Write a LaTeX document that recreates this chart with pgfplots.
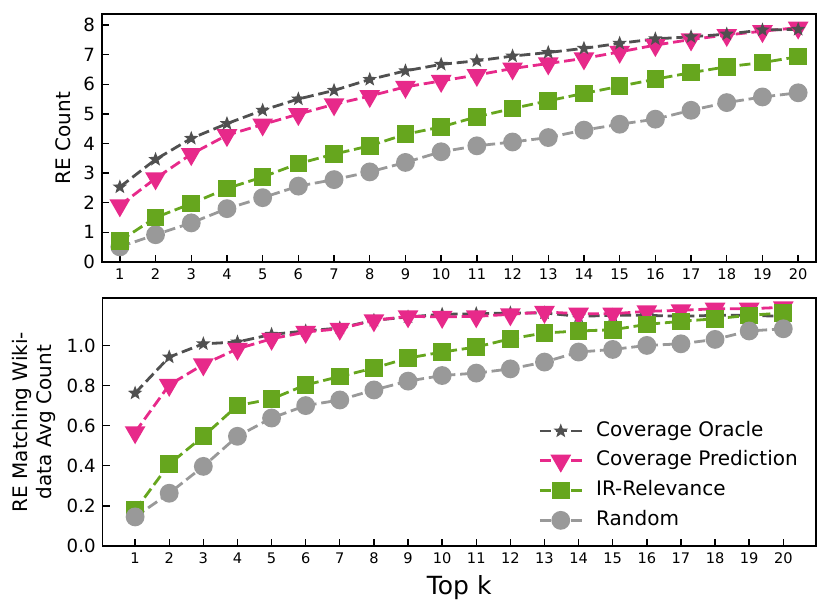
\documentclass[border=0pt]{standalone}
\usepackage{fontspec}
\setmainfont{DejaVu Sans}
\usepackage{pgfplots}
\pgfplotsset{compat=1.18}
\usetikzlibrary{plotmarks}
\definecolor{cOracle}{HTML}{505050}
\definecolor{cPred}{HTML}{E7298A}
\definecolor{cIR}{HTML}{66A61E}
\definecolor{cRand}{HTML}{999999}
\pgfdeclareplotmark{fstar}{%
  \pgfpathmoveto{\pgfqpointpolar{90}{\pgfplotmarksize}}%
  \pgfpathlineto{\pgfqpointpolar{126}{0.42\pgfplotmarksize}}%
  \pgfpathlineto{\pgfqpointpolar{162}{\pgfplotmarksize}}%
  \pgfpathlineto{\pgfqpointpolar{198}{0.42\pgfplotmarksize}}%
  \pgfpathlineto{\pgfqpointpolar{234}{\pgfplotmarksize}}%
  \pgfpathlineto{\pgfqpointpolar{270}{0.42\pgfplotmarksize}}%
  \pgfpathlineto{\pgfqpointpolar{306}{\pgfplotmarksize}}%
  \pgfpathlineto{\pgfqpointpolar{342}{0.42\pgfplotmarksize}}%
  \pgfpathlineto{\pgfqpointpolar{18}{\pgfplotmarksize}}%
  \pgfpathlineto{\pgfqpointpolar{54}{0.42\pgfplotmarksize}}%
  \pgfpathclose\pgfusepathqfill}

\pgfplotstableread{
k oracle pred ir rand
1  2.53 1.91 0.71 0.51
2  3.46 2.82 1.50 0.92
3  4.17 3.64 1.97 1.32
4  4.67 4.28 2.48 1.80
5  5.12 4.64 2.87 2.17
6  5.50 4.99 3.32 2.56
7  5.79 5.32 3.64 2.78
8  6.16 5.60 3.92 3.04
9  6.45 5.91 4.31 3.36
10 6.67 6.11 4.56 3.72
11 6.79 6.31 4.90 3.92
12 6.95 6.53 5.18 4.05
13 7.07 6.70 5.44 4.20
14 7.21 6.87 5.69 4.45
15 7.38 7.09 5.93 4.65
16 7.53 7.32 6.17 4.82
17 7.60 7.51 6.39 5.12
18 7.69 7.66 6.59 5.38
19 7.83 7.79 6.73 5.57
20 7.85 7.91 6.93 5.71
}\topdata

\pgfplotstableread{
k oracle pred ir rand
1  0.762 0.567 0.178 0.145
2  0.942 0.803 0.408 0.263
3  1.008 0.905 0.547 0.397
4  1.017 0.983 0.700 0.547
5  1.055 1.033 0.733 0.638
6  1.072 1.067 0.803 0.700
7  1.087 1.083 0.845 0.728
8  1.125 1.125 0.887 0.778
9  1.142 1.145 0.937 0.822
10 1.155 1.142 0.967 0.850
11 1.158 1.145 0.992 0.862
12 1.162 1.155 1.033 0.883
13 1.162 1.167 1.062 0.917
14 1.145 1.158 1.072 0.967
15 1.150 1.158 1.078 0.980
16 1.150 1.170 1.105 1.000
17 1.145 1.175 1.120 1.008
18 1.150 1.183 1.133 1.030
19 1.150 1.183 1.150 1.072
20 1.145 1.190 1.162 1.083
}\botdata

\pgfplotsset{
  myaxis/.style={
    scale only axis,
    axis line style={black, line width=0.8pt},
    tick align=inside,
    major tick length=3.5pt,
    every tick/.style={black, line width=0.7pt},
    xtick pos=bottom, ytick pos=left,
    xtick={1,...,20},
    /pgf/number format/assume math mode=true,
    xticklabel style={font=\fontsize{7.3}{8}\selectfont},
    yticklabel style={font=\fontsize{9.1}{10}\selectfont},
    ylabel style={font=\fontsize{9.5}{11.2}\selectfont},
    clip=false,
  },
  sO/.style={cOracle, line width=1.4pt, dash pattern=on 5.5pt off 2.4pt, mark=fstar, mark size=3.8pt, mark options={solid, fill=cOracle}},
  sP/.style={cPred, line width=1.4pt, dash pattern=on 5.5pt off 2.4pt, mark=triangle*, mark size=4.6pt, mark options={solid, rotate=180, fill=cPred, draw=cPred}},
  sI/.style={cIR, line width=1.4pt, dash pattern=on 5.5pt off 2.4pt, mark=square*, mark size=3.7pt, mark options={solid, fill=cIR, draw=cIR}},
  sR/.style={cRand, line width=1.4pt, dash pattern=on 5.5pt off 2.4pt, mark=*, mark size=4pt, mark options={solid, fill=cRand, draw=cRand}},
}

\begin{document}
\begin{tikzpicture}
\useasboundingbox (0,0) rectangle (415pt,307pt);
\begin{axis}[myaxis,
  at={(51pt,176pt)}, anchor=south west,
  width=357pt, height=124pt,
  xmin=0.5, xmax=20.5, ymin=0, ymax=8.37,
  ytick={0,...,8},
  ylabel={RE Count},
  every axis y label/.style={at={(axis description cs:-0.0546,0.5)}, rotate=90, anchor=center},
]
\addplot[sR] table[x=k,y=rand]{\topdata};
\addplot[sI] table[x=k,y=ir]{\topdata};
\addplot[sP] table[x=k,y=pred]{\topdata};
\addplot[sO] table[x=k,y=oracle]{\topdata};
\end{axis}
\begin{axis}[myaxis,
  at={(51.35pt,34pt)}, anchor=south west,
  width=356.5pt, height=123.85pt,
  xmin=0.05, xmax=20.95, ymin=0, ymax=1.235,
  ytick={0,0.2,0.4,0.6,0.8,1.0},
  yticklabel style={/pgf/number format/fixed, /pgf/number format/fixed zerofill, /pgf/number format/precision=1},
  ylabel={RE Matching Wiki-\\data Avg Count},
  every axis y label/.style={at={(axis description cs:-0.0964,0.5)}, rotate=90, anchor=center, align=center},
  xlabel={Top k},
  every axis x label/.style={at={(axis description cs:0.5,0)}, anchor=base, yshift=-24.5pt, font=\fontsize{12.5}{14}\selectfont},
  legend style={draw=none, fill=none, inner sep=0pt, at={(axis description cs:0.6105,0.502)}, anchor=north west,
    font=\fontsize{10}{11}\selectfont, row sep=5.85pt,
    nodes={inner sep=0pt, text height=7pt, text depth=2pt},
    /tikz/every odd column/.append style={column sep=6.5pt}},
  legend cell align=left,
  legend image code/.code={%
    \draw[mark repeat=2, mark phase=2] plot coordinates {(0pt,0pt) (10.5pt,0pt) (21pt,0pt)};},
]
\addplot[sO] table[x=k,y=oracle]{\botdata};
\addlegendentry{Coverage Oracle}
\addplot[sP] table[x=k,y=pred]{\botdata};
\addlegendentry{Coverage Prediction}
\addplot[sI] table[x=k,y=ir]{\botdata};
\addlegendentry{IR-Relevance}
\addplot[sR] table[x=k,y=rand]{\botdata};
\addlegendentry{Random}
\end{axis}
\end{tikzpicture}
\end{document}
